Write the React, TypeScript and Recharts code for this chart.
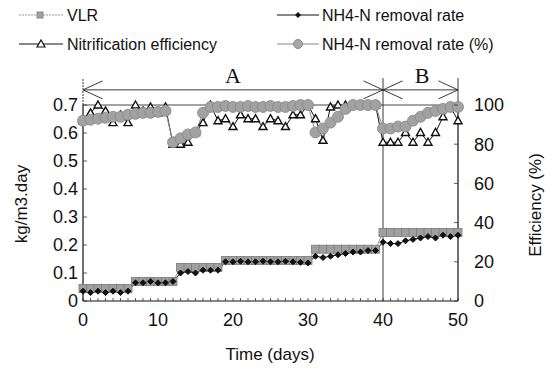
import React from 'react';
import {
  ComposedChart,
  Line,
  XAxis,
  YAxis,
  ReferenceLine,
  ReferenceDot,
} from 'recharts';

// daily readings, days 0..50
const DAYS = [
  0, 1, 2, 3, 4, 5, 6, 7, 8, 9, 10, 11, 12, 13, 14, 15, 16, 17, 18, 19, 20,
  21, 22, 23, 24, 25, 26, 27, 28, 29, 30, 31, 32, 33, 34, 35, 36, 37, 38, 39,
  40, 41, 42, 43, 44, 45, 46, 47, 48, 49, 50,
];

// kg/m3.day
const VLR = [
  0.045, 0.045, 0.045, 0.045, 0.045, 0.045, 0.045,
  0.07, 0.07, 0.07, 0.07, 0.07, 0.07,
  0.12, 0.12, 0.12, 0.12, 0.12, 0.12,
  0.145, 0.145, 0.145, 0.145, 0.145, 0.145, 0.145, 0.145, 0.145, 0.145, 0.145, 0.145,
  0.185, 0.185, 0.185, 0.185, 0.185, 0.185, 0.185, 0.185, 0.185,
  0.245, 0.245, 0.245, 0.245, 0.245, 0.245, 0.245, 0.245, 0.245, 0.245, 0.245,
];

const NH4_RATE = [
  0.035, 0.03, 0.035, 0.03, 0.035, 0.03, 0.035,
  0.065, 0.065, 0.07, 0.065, 0.065, 0.07,
  0.1, 0.105, 0.1, 0.11, 0.11, 0.11,
  0.14, 0.14, 0.142, 0.14, 0.14, 0.142, 0.14, 0.14, 0.142, 0.14, 0.138, 0.136,
  0.16, 0.155, 0.16, 0.165, 0.17, 0.175, 0.175, 0.18, 0.18,
  0.21, 0.205, 0.205, 0.215, 0.22, 0.225, 0.23, 0.225, 0.235, 0.23, 0.235,
];

// %
const NITRIFICATION = [
  92, 96, 100, 97, 91, 95, 91, 100, 97, 99, 96, 99,
  80, 80, 81, 86, 91, 100, 92, 93, 89, 95, 93, 93, 89, 93, 92, 89, 95, 95,
  100, 93, 82, 99, 100, 100, 100, 100, 100, 100,
  81, 81, 81, 86, 81, 86, 81, 86, 94, 99, 92,
];

const NH4_PCT = [
  92, 92.5, 93, 93.5, 94, 94, 95, 95.5, 96, 96, 96.5, 97,
  81, 83, 85, 86, 96, 99, 99, 99.5, 99, 99, 99.5, 99, 99, 99.5, 99, 99, 99.5, 100,
  100, 86, 88, 91, 94, 98, 100, 100, 100, 100,
  88, 88, 89, 89, 92, 94, 96, 97, 98, 99, 99,
];

const LEFT_TICKS = [0, 0.1, 0.2, 0.3, 0.4, 0.5, 0.6, 0.7];
const RIGHT_TICKS = [0, 20, 40, 60, 80, 100];
const X_LABELS = [0, 10, 20, 30, 40, 50];

const data = DAYS.map((d, i) => ({
  day: d,
  vlr: VLR[i],
  rate: NH4_RATE[i],
  nit: NITRIFICATION[i],
  pct: NH4_PCT[i],
}));

const W = 553;
const H = 371;
const PLOT_L = 83;
const PLOT_R = 458;
const PLOT_T = 105;
const PLOT_B = 301;
const FONT = "'Liberation Sans', Arial, sans-serif";

const Square = (p: any) => (
  <rect key={`s${p.index}`} x={p.cx - 4} y={p.cy - 4} width={8} height={8} fill="#a0a0a0" stroke="#7a7a7a" strokeWidth={0.8} />
);
const Diamond = (p: any) => (
  <polygon key={`d${p.index}`} points={`${p.cx},${p.cy - 3} ${p.cx + 3},${p.cy} ${p.cx},${p.cy + 3} ${p.cx - 3},${p.cy}`} fill="#111" stroke="#111" />
);
const Tri = (p: any) => (
  <polygon key={`t${p.index}`} points={`${p.cx},${p.cy - 4} ${p.cx + 4},${p.cy + 3} ${p.cx - 4},${p.cy + 3}`} fill="#fff" stroke="#111" strokeWidth={1.4} />
);
const Ball = (p: any) => (
  <circle key={`c${p.index}`} cx={p.cx} cy={p.cy} r={5.5} fill="#a2a2a2" stroke="#858585" strokeWidth={0.8} />
);

const XTick = (p: any) => {
  const v = p.payload.value;
  return (
    <g>
      <line x1={p.x} x2={p.x} y1={PLOT_B} y2={PLOT_B - 3} stroke="#333" strokeWidth={0.8} />
      {X_LABELS.includes(v) && (
        <text x={p.x} y={326} textAnchor="middle" fontSize={18} fontFamily={FONT} fill="#111">
          {v}
        </text>
      )}
    </g>
  );
};

const LeftTick = (p: any) => (
  <g>
    <line x1={PLOT_L} x2={PLOT_L + 4} y1={p.y} y2={p.y} stroke="#333" strokeWidth={0.8} />
    <text x={78} y={p.y} dy="0.36em" textAnchor="end" fontSize={18} fontFamily={FONT} fill="#111">
      {p.payload.value}
    </text>
  </g>
);

const RightTick = (p: any) => (
  <g>
    <line x1={PLOT_R - 4} x2={PLOT_R} y1={p.y} y2={p.y} stroke="#333" strokeWidth={0.8} />
    <text x={474} y={p.y} dy="0.36em" textAnchor="start" fontSize={18} fontFamily={FONT} fill="#111">
      {p.payload.value}
    </text>
  </g>
);

const Legend = () => (
  <svg width={W} height={60} style={{ position: 'absolute', left: 0, top: 0 }}>
    <g fontFamily={FONT} fontSize={16} fill="#111">
      <line x1={19} x2={63} y1={15} y2={15} stroke="#999" strokeDasharray="2 1" />
      <rect x={37} y={12} width={6} height={6} fill="#a3a3a3" stroke="#777" strokeWidth={0.8} />
      <text x={67} y={21}>VLR</text>

      <line x1={277} x2={319} y1={15} y2={15} stroke="#111" />
      <polygon points="298,12 301,15 298,18 295,15" fill="#111" />
      <text x={322} y={21}>NH4-N removal rate</text>

      <line x1={19} x2={63} y1={44} y2={44} stroke="#111" />
      <polygon points="41,40 45,47 37,47" fill="#fff" stroke="#111" strokeWidth={1.2} />
      <text x={67} y={50}>Nitrification efficiency</text>

      <line x1={277} x2={319} y1={44} y2={44} stroke="#888" />
      <circle cx={298} cy={44} r={4.5} fill="#a8a8a8" stroke="#8a8a8a" />
      <text x={322} y={50}>NH4-N removal rate (%)</text>
    </g>
  </svg>
);

const Titles = () => (
  <svg width={W} height={H} style={{ position: 'absolute', left: 0, top: 0, pointerEvents: 'none' }}>
    <g fontFamily={FONT} fontSize={17} fill="#111" textAnchor="middle">
      <text x={270} y={360}>Time (days)</text>
      <text x={21} y={204} transform="rotate(-90 21 204)" dy="0.35em">kg/m3.day</text>
      <text x={535} y={205} transform="rotate(-90 535 205)" dy="0.35em">Efficiency (%)</text>
    </g>
  </svg>
);

const ARROW_Y = 0.754;
const HEAD_X = 2.6;
const HEAD_Y = 0.032;

export default function App() {
  const seg = (x1: number, y1: number, x2: number, y2: number, k: string, dash?: string) => (
    <ReferenceLine
      key={k}
      yAxisId="left"
      segment={[{ x: x1, y: y1 }, { x: x2, y: y2 }]}
      ifOverflow="visible"
      stroke="#222"
      strokeWidth={0.9}
      strokeDasharray={dash}
    />
  );

  return (
    <div style={{ position: 'absolute', left: 0, top: 0, width: W, height: H, background: '#fff' }}>
      <Legend />
      <ComposedChart
        width={W}
        height={H}
        data={data}
        margin={{ top: PLOT_T, right: 0, bottom: 0, left: 0 }}
        style={{ position: 'absolute', left: 0, top: 0 }}
      >
        <XAxis
          dataKey="day"
          type="number"
          domain={[0, 50]}
          ticks={DAYS}
          interval={0}
          height={H - PLOT_B}
          tickLine={false}
          axisLine={{ stroke: '#111', strokeWidth: 1.2 }}
          tick={<XTick />}
        />
        <YAxis
          yAxisId="left"
          domain={[0, 0.7]}
          ticks={LEFT_TICKS}
          width={PLOT_L}
          tickLine={false}
          axisLine={{ stroke: '#111', strokeWidth: 1.2 }}
          tick={<LeftTick />}
        />
        <YAxis
          yAxisId="right"
          orientation="right"
          domain={[0, 100]}
          ticks={RIGHT_TICKS}
          width={W - PLOT_R}
          tickLine={false}
          axisLine={{ stroke: '#111', strokeWidth: 1.2 }}
          tick={<RightTick />}
        />

        <ReferenceLine yAxisId="left" y={0.7} stroke="#333" strokeWidth={0.9} />
        {seg(40, 0, 40, 0.796, 'v40')}
        {seg(0, 0.7, 0, 0.796, 'v0', '2 1')}
        {seg(50, 0.7, 50, 0.796, 'v50')}
        {seg(0, ARROW_Y, 50, ARROW_Y, 'arrow')}
        {seg(0, ARROW_Y, HEAD_X, ARROW_Y + HEAD_Y, 'a1')}
        {seg(0, ARROW_Y, HEAD_X, ARROW_Y - HEAD_Y, 'a2')}
        {seg(40, ARROW_Y, 40 - HEAD_X, ARROW_Y + HEAD_Y, 'a3')}
        {seg(40, ARROW_Y, 40 - HEAD_X, ARROW_Y - HEAD_Y, 'a4')}
        {seg(40, ARROW_Y, 40 + HEAD_X, ARROW_Y + HEAD_Y, 'b1')}
        {seg(40, ARROW_Y, 40 + HEAD_X, ARROW_Y - HEAD_Y, 'b2')}
        {seg(50, ARROW_Y, 50 - HEAD_X, ARROW_Y + HEAD_Y, 'b3')}
        {seg(50, ARROW_Y, 50 - HEAD_X, ARROW_Y - HEAD_Y, 'b4')}
        <ReferenceDot
          yAxisId="left"
          x={20}
          y={0.808}
          r={0}
          ifOverflow="visible"
          label={{ value: 'A', position: 'center', fontSize: 22, fontFamily: "'Liberation Serif', serif", fill: '#111' }}
        />
        <ReferenceDot
          yAxisId="left"
          x={45.2}
          y={0.808}
          r={0}
          ifOverflow="visible"
          label={{ value: 'B', position: 'center', fontSize: 22, fontFamily: "'Liberation Serif', serif", fill: '#111' }}
        />

        <Line
          yAxisId="left"
          dataKey="vlr"
          name="VLR"
          type="linear"
          stroke="#999"
          strokeWidth={1}
          dot={Square}
          isAnimationActive={false}
        />
        <Line
          yAxisId="left"
          dataKey="rate"
          name="NH4-N removal rate"
          type="linear"
          stroke="#111"
          strokeWidth={1}
          dot={Diamond}
          isAnimationActive={false}
        />
        <Line
          yAxisId="right"
          dataKey="nit"
          name="Nitrification efficiency"
          type="linear"
          stroke="#111"
          strokeWidth={1}
          dot={Tri}
          isAnimationActive={false}
        />
        <Line
          yAxisId="right"
          dataKey="pct"
          name="NH4-N removal rate (%)"
          type="linear"
          stroke="#888"
          strokeWidth={1}
          dot={Ball}
          isAnimationActive={false}
        />
      </ComposedChart>
      <Titles />
    </div>
  );
}
